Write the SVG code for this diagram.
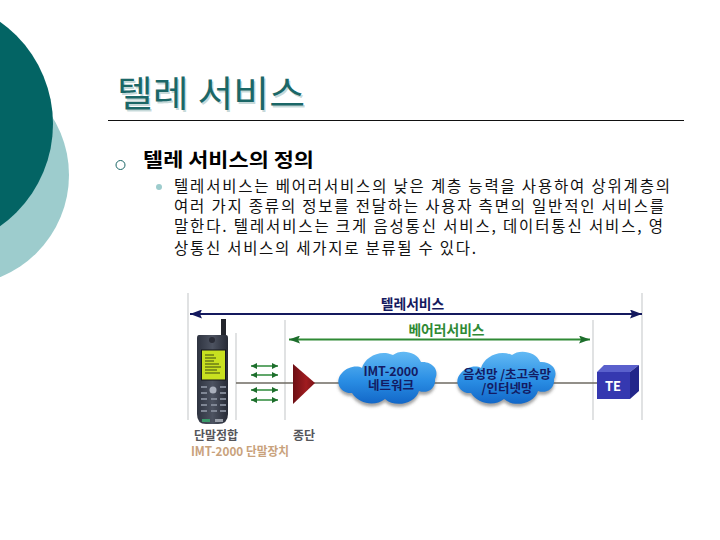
<svg xmlns="http://www.w3.org/2000/svg" xmlns:xlink="http://www.w3.org/1999/xlink" width="720" height="540" viewBox="0 0 720 540">
<style>
text{font-family:"Noto Sans CJK KR","Noto Sans",sans-serif}
.title{font-size:36px;fill:#1b6767}
.head{font-size:19px;font-weight:700;fill:#000}
.body{font-size:15.500px;fill:#111}
.lab{font-size:12.500px;font-weight:700;text-anchor:middle}
.big{font-size:13.800px}
.cap{fill:#55565a;font-size:12px}
.guide{stroke:#d4d6d8;stroke-width:1.4;fill:none}
.link{stroke:#6e6a62;stroke-width:1.6;fill:none}
.small{stroke:#2c8a3a;stroke-width:1.5;fill:none;marker-start:url(#gs);marker-end:url(#ge2)}
.key{fill:#7f8694}
</style>
<defs>
<marker id="be" markerWidth="13" markerHeight="9" refX="12" refY="4.500" orient="auto" markerUnits="userSpaceOnUse"><path d="M0 0L12 4.500L0 9L2 4.500Z" fill="#14195e"/></marker>
<marker id="bs" markerWidth="13" markerHeight="9" refX="1" refY="4.500" orient="auto" markerUnits="userSpaceOnUse"><path d="M13 0L1 4.500L13 9L11 4.500Z" fill="#14195e"/></marker>
<marker id="ge" markerWidth="12" markerHeight="8" refX="11" refY="4" orient="auto" markerUnits="userSpaceOnUse"><path d="M0 0L11 4L0 8L2 4Z" fill="#1d6e2c"/></marker>
<marker id="gstart" markerWidth="12" markerHeight="8" refX="1" refY="4" orient="auto" markerUnits="userSpaceOnUse"><path d="M12 0L1 4L12 8L10 4Z" fill="#1d6e2c"/></marker>
<marker id="ge2" markerWidth="7" markerHeight="6" refX="6" refY="3" orient="auto" markerUnits="userSpaceOnUse"><path d="M0 0L6 3L0 6Z" fill="#1d6e2c"/></marker>
<marker id="gs" markerWidth="7" markerHeight="6" refX="0" refY="3" orient="auto" markerUnits="userSpaceOnUse"><path d="M6 0L0 3L6 6Z" fill="#1d6e2c"/></marker>
<linearGradient id="cl" x1="0" y1="0" x2="0" y2="1"><stop offset="0" stop-color="#63baf4"/><stop offset=".55" stop-color="#2a8ee4"/><stop offset="1" stop-color="#1267c8"/></linearGradient>
<linearGradient id="tri" x1="0" y1="0" x2="1" y2="0"><stop offset="0" stop-color="#6d0f14"/><stop offset=".6" stop-color="#a01c20"/><stop offset="1" stop-color="#7a1216"/></linearGradient>
<linearGradient id="ph" x1="0" y1="0" x2="1" y2="0"><stop offset="0" stop-color="#2e3340"/><stop offset=".5" stop-color="#4d5361"/><stop offset="1" stop-color="#262a35"/></linearGradient>
<filter id="sh" x="-10%" y="-10%" width="120%" height="130%"><feGaussianBlur stdDeviation="1.6"/></filter>
<path id="cloud" d="M15 41C3 42-3 29 5 21C10 15 20 13 25 16C28 5 43-3 56 3C63-3 80-1 84 10C95 9 103 18 98 27C99 37 90 42 82 39C78 52 58 56 48 47C38 55 22 52 15 41Z"/>
</defs>
<rect width="720" height="540" fill="#fff"/>
<g id="background">
<circle cx="-41" cy="175" r="110" fill="#9dcccd"/>
<circle cx="-72" cy="124" r="125" fill="#036464"/>
<line x1="108" y1="120.500" x2="684" y2="120.500" stroke="#111" stroke-width="1"/>
</g>
<g id="title">
<text x="117" y="107" class="title" fill-opacity=".25" transform="translate(1.500 1.500)" textLength="188" lengthAdjust="spacingAndGlyphs">텔레 서비스</text>
<text x="117" y="107" class="title" textLength="188" lengthAdjust="spacingAndGlyphs">텔레 서비스</text>
</g>
<g id="text-block">
<circle cx="120.500" cy="165" r="4.500" fill="#fff" stroke="#1b6767" stroke-width="1"/>
<text x="143" y="167" class="head" textLength="171" lengthAdjust="spacingAndGlyphs">텔레 서비스의 정의</text>
<circle cx="159" cy="187" r="3" fill="#9dcccd"/>
<text x="174" y="192" class="body" textLength="496">텔레서비스는 베어러서비스의 낮은 계층 능력을 사용하여 상위계층의</text>
<text x="174" y="212" class="body" textLength="490">여러 가지 종류의 정보를 전달하는 사용자 측면의 일반적인 서비스를</text>
<text x="174" y="232" class="body" textLength="489">말한다. 텔레서비스는 크게 음성통신 서비스, 데이터통신 서비스, 영</text>
<text x="174" y="254" class="body" textLength="302">상통신 서비스의 세가지로 분류될 수 있다.</text>
</g>
<g id="connectors">
<path class="guide" d="M188 293V420M236 333V420M285 320V420M593 320V420M642 293V420"/>
<path class="link" d="M236 383H600"/>
<line x1="190" y1="314" x2="642" y2="314" stroke="#14195e" stroke-width="2" marker-start="url(#bs)" marker-end="url(#be)"/>
<line x1="289" y1="339.500" x2="590" y2="339.500" stroke="#2f8a35" stroke-width="2" marker-start="url(#gstart)" marker-end="url(#ge)"/>
<line class="small" x1="251" y1="366" x2="278" y2="366"/>
<line class="small" x1="251" y1="375" x2="278" y2="375"/>
<line class="small" x1="251" y1="390" x2="278" y2="390"/>
<line class="small" x1="251" y1="400" x2="278" y2="400"/>
</g>
<g id="phone">
<rect x="221" y="319" width="5" height="17" fill="#23252c"/>
<path d="M199 335H226Q228 335 228 338V414Q228 424 218 424H206Q197 424 197 414V338Q197 335 199 335Z" fill="url(#ph)"/>
<circle cx="212" cy="340" r="3" fill="#2a2d38"/>
<rect x="201.500" y="350" width="24" height="30" fill="#c8e020" stroke="#15171c"/>
<path d="M205 355H214M205 358H216M205 361H214M205 364H219M205 367H221M205 370H217M205 373H220" stroke="#3c4a10" stroke-width="1.200"/>
<circle cx="213" cy="390" r="3.500" fill="#aab0bc"/>
<g class="key"><rect x="201" y="386" width="6" height="2"/><rect x="220" y="386" width="6" height="2"/><rect x="201" y="392" width="6" height="2"/><rect x="220" y="392" width="6" height="2"/><rect x="201" y="398" width="6" height="2"/><rect x="211" y="398" width="6" height="2"/><rect x="220" y="398" width="6" height="2"/><rect x="201" y="404" width="6" height="2"/><rect x="211" y="404" width="6" height="2"/><rect x="220" y="404" width="6" height="2"/><rect x="201" y="410" width="6" height="2"/><rect x="211" y="410" width="6" height="2"/><rect x="220" y="410" width="6" height="2"/></g>
<rect x="202" y="419" width="8" height="3" fill="#3a9a6a"/><rect x="215" y="419" width="8" height="3" fill="#9aa0aa"/>
</g>
<g id="terminator">
<path d="M293 364L315 383L293 404Z" fill="url(#tri)"/>
</g>
<g id="cloud-imt">
<use xlink:href="#cloud" href="#cloud" transform="translate(337 355)" fill="#555" fill-opacity=".55" filter="url(#sh)"/>
<use xlink:href="#cloud" href="#cloud" transform="translate(337 352)" fill="url(#cl)"/>
<text class="lab" fill="#131b63"><tspan x="391" y="376" textLength="55">IMT-2000</tspan><tspan x="391" y="390">네트워크</tspan></text>
</g>
<g id="cloud-net">
<use xlink:href="#cloud" href="#cloud" transform="translate(456 355)" fill="#555" fill-opacity=".55" filter="url(#sh)"/>
<use xlink:href="#cloud" href="#cloud" transform="translate(456 352)" fill="url(#cl)"/>
<text class="lab" fill="#131b63"><tspan x="507" y="379">음성망 /초고속망</tspan><tspan x="507" y="393">/인터넷망</tspan></text>
</g>
<g id="te">
<path d="M597 372L604 365H639L630 372Z" fill="#5a60cc"/>
<path d="M630 372L639 365V391L630 399Z" fill="#22268a"/>
<rect x="597" y="372" width="33" height="27" fill="#3538b0"/>
<text x="613" y="391" class="lab" fill="#fff" style="font-size:13px">TE</text>
</g>
<g id="labels">
<text x="412.500" y="309" class="lab big" fill="#14195e">텔레서비스</text>
<text x="446.500" y="335" class="lab big" fill="#2f8a35">베어러서비스</text>
<text x="216" y="440" class="lab cap">단말정합</text>
<text x="304" y="440" class="lab cap">종단</text>
<text x="240" y="456" class="lab" fill="#c9a27c" textLength="98" lengthAdjust="spacingAndGlyphs">IMT-2000 단말장치</text>
</g>
</svg>
